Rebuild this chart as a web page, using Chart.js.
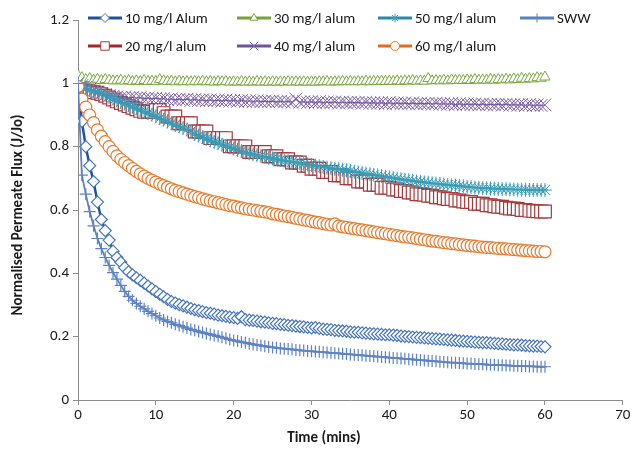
<!DOCTYPE html>
<html>
<head>
<meta charset="utf-8">
<script src="https://cdn.jsdelivr.net/npm/chart.js@4/dist/chart.umd.min.js"></script>
<style>
html,body{margin:0;padding:0;background:#fff;}
#wrap{width:633px;height:453px;position:relative;}
</style>
</head>
<body>
<div id="wrap"><canvas id="c" width="633" height="453"></canvas></div>
<script>
// ---- DATA ----
const times = [0,0.5,1,1.5,2,2.5,3,3.5,4,4.5,5,5.5,6,6.5,7,7.5,8,8.5,9,9.5,
10,10.5,11,11.5,12,12.5,13,13.5,14,14.5,15,15.5,16,16.5,17,17.5,18,18.5,19,19.5,
20,20.5,21,21.5,22,22.5,23,23.5,24,24.5,25,25.5,26,26.5,27,27.5,28,28.5,29,29.5,
30,30.5,31,31.5,32,32.5,33,33.5,34,34.5,35,35.5,36,36.5,37,37.5,38,38.5,39,39.5,
40,40.5,41,41.5,42,42.5,43,43.5,44,44.5,45,45.5,46,46.5,47,47.5,48,48.5,49,49.5,
50,50.5,51,51.5,52,52.5,53,53.5,54,54.5,55,55.5,56,56.5,57,57.5,58,58.5,59,59.5,60];

const seriesNames = ['10 mg/l Alum','20 mg/l alum','30 mg/l alum','40 mg/l alum','50 mg/l alum','60 mg/l alum','SWW'];

const alum10 = [1.000,0.880,0.800,0.740,0.690,0.625,0.570,0.535,0.505,0.470,
0.450,0.435,0.418,0.405,0.395,0.386,0.378,0.369,0.360,0.351,
0.342,0.334,0.326,0.318,0.311,0.306,0.301,0.297,0.293,0.289,
0.285,0.282,0.279,0.276,0.274,0.271,0.268,0.266,0.264,0.262,
0.260,0.258,0.263,0.254,0.252,0.251,0.249,0.247,0.246,0.244,
0.242,0.241,0.239,0.238,0.236,0.235,0.233,0.232,0.231,0.229,
0.228,0.229,0.226,0.224,0.223,0.222,0.220,0.219,0.218,0.217,
0.215,0.214,0.214,0.212,0.211,0.210,0.209,0.208,0.207,0.206,
0.206,0.205,0.204,0.202,0.201,0.200,0.199,0.198,0.197,0.196,
0.195,0.194,0.193,0.192,0.191,0.190,0.189,0.188,0.187,0.186,
0.185,0.184,0.183,0.182,0.181,0.181,0.180,0.179,0.178,0.177,
0.176,0.175,0.174,0.174,0.173,0.172,0.171,0.170,0.170,0.169,0.168];

const alum20 = [0.980,0.978,0.975,0.974,0.972,0.970,0.966,0.961,0.955,0.949,
0.943,0.938,0.933,0.928,0.923,0.918,0.913,0.910,0.910,0.910,
0.916,0.916,0.906,0.895,0.895,0.895,0.874,0.874,0.874,0.874,
0.848,0.848,0.848,0.848,0.827,0.827,0.827,0.827,0.827,0.801,
0.801,0.801,0.801,0.801,0.783,0.783,0.783,0.783,0.783,0.770,
0.770,0.770,0.760,0.760,0.760,0.750,0.750,0.750,0.740,0.740,
0.730,0.730,0.730,0.720,0.720,0.720,0.710,0.710,0.710,0.700,
0.700,0.700,0.690,0.690,0.690,0.680,0.680,0.680,0.670,0.670,
0.670,0.665,0.665,0.660,0.660,0.655,0.655,0.650,0.650,0.648,
0.645,0.645,0.640,0.640,0.637,0.635,0.635,0.630,0.630,0.627,
0.625,0.625,0.620,0.620,0.620,0.615,0.615,0.612,0.610,0.610,
0.607,0.605,0.605,0.603,0.600,0.600,0.598,0.597,0.596,0.595,0.595];

const alum30 = [1.025,1.018,1.012,1.015,1.010,1.013,1.009,1.012,1.010,1.008,
1.008,1.010,1.007,1.009,1.006,1.008,1.006,1.009,1.006,1.007,
1.006,1.012,1.008,1.006,1.007,1.005,1.007,1.005,1.006,1.005,
1.006,1.005,1.007,1.005,1.006,1.004,1.006,1.005,1.006,1.004,
1.005,1.004,1.006,1.004,1.005,1.004,1.006,1.004,1.005,1.004,
1.005,1.004,1.005,1.004,1.006,1.004,1.005,1.004,1.005,1.004,
1.005,1.004,1.005,1.005,1.006,1.004,1.005,1.005,1.006,1.005,
1.006,1.005,1.006,1.005,1.007,1.005,1.006,1.006,1.007,1.006,
1.007,1.006,1.008,1.006,1.008,1.007,1.009,1.007,1.008,1.007,
1.015,1.008,1.009,1.008,1.010,1.008,1.011,1.009,1.010,1.009,
1.011,1.009,1.012,1.010,1.011,1.010,1.013,1.010,1.012,1.011,
1.013,1.011,1.014,1.012,1.016,1.013,1.015,1.014,1.018,1.016,1.020];

const alum40 = [1.000,0.993,0.987,0.981,0.976,0.972,0.968,0.964,0.961,0.959,
0.957,0.955,0.957,0.954,0.956,0.953,0.955,0.952,0.954,0.951,
0.953,0.950,0.952,0.949,0.951,0.948,0.950,0.947,0.950,0.946,
0.949,0.946,0.948,0.945,0.948,0.945,0.947,0.944,0.947,0.944,
0.946,0.943,0.946,0.943,0.945,0.942,0.945,0.942,0.944,0.942,
0.944,0.941,0.943,0.941,0.943,0.940,0.950,0.940,0.942,0.940,
0.942,0.939,0.942,0.939,0.941,0.939,0.941,0.938,0.941,0.938,
0.940,0.938,0.940,0.937,0.940,0.937,0.939,0.937,0.939,0.936,
0.939,0.936,0.938,0.936,0.938,0.935,0.938,0.935,0.937,0.935,
0.937,0.934,0.937,0.934,0.936,0.934,0.936,0.933,0.936,0.933,
0.935,0.933,0.935,0.932,0.935,0.932,0.934,0.932,0.934,0.931,
0.934,0.931,0.933,0.931,0.933,0.930,0.933,0.930,0.932,0.930,0.932];

const alum50 = [1.000,0.988,0.982,0.979,0.976,0.973,0.969,0.964,0.958,0.952,
0.946,0.941,0.936,0.931,0.926,0.921,0.916,0.911,0.906,0.901,
0.896,0.890,0.885,0.880,0.874,0.869,0.864,0.859,0.854,0.849,
0.840,0.835,0.830,0.825,0.820,0.815,0.811,0.806,0.802,0.798,
0.794,0.790,0.786,0.782,0.779,0.776,0.773,0.770,0.768,0.765,
0.763,0.761,0.758,0.756,0.754,0.752,0.750,0.748,0.746,0.744,
0.742,0.740,0.738,0.736,0.734,0.732,0.730,0.729,0.727,0.725,
0.723,0.721,0.719,0.717,0.715,0.713,0.711,0.709,0.707,0.705,
0.703,0.701,0.699,0.697,0.695,0.694,0.692,0.690,0.689,0.687,
0.686,0.684,0.683,0.682,0.680,0.679,0.678,0.677,0.676,0.675,
0.673,0.672,0.671,0.670,0.669,0.669,0.668,0.667,0.667,0.666,
0.666,0.665,0.665,0.664,0.664,0.664,0.663,0.663,0.663,0.663,0.663];

const alum60 = [0.990,0.950,0.925,0.900,0.876,0.853,0.833,0.816,0.800,0.785,
0.771,0.760,0.750,0.740,0.731,0.722,0.714,0.707,0.700,0.694,
0.688,0.682,0.677,0.672,0.667,0.662,0.658,0.654,0.650,0.646,
0.642,0.639,0.635,0.632,0.629,0.626,0.623,0.620,0.617,0.614,
0.612,0.609,0.607,0.604,0.602,0.600,0.598,0.596,0.594,0.592,
0.588,0.586,0.584,0.581,0.579,0.577,0.574,0.572,0.569,0.567,
0.564,0.562,0.560,0.557,0.555,0.553,0.556,0.549,0.547,0.545,
0.543,0.541,0.539,0.537,0.535,0.533,0.531,0.529,0.527,0.525,
0.523,0.521,0.519,0.517,0.515,0.514,0.512,0.510,0.508,0.506,
0.504,0.502,0.501,0.499,0.497,0.496,0.494,0.493,0.491,0.490,
0.488,0.487,0.486,0.484,0.483,0.482,0.481,0.480,0.479,0.478,
0.477,0.476,0.475,0.474,0.473,0.472,0.471,0.470,0.469,0.469,0.468];

const sww = [1.000,0.710,0.650,0.595,0.550,0.510,0.478,0.450,0.425,0.402,
0.382,0.362,0.343,0.327,0.315,0.305,0.296,0.288,0.280,0.273,
0.266,0.259,0.253,0.248,0.244,0.239,0.235,0.231,0.227,0.223,
0.220,0.216,0.213,0.210,0.207,0.204,0.201,0.198,0.195,0.191,
0.188,0.186,0.183,0.181,0.178,0.176,0.174,0.172,0.170,0.168,
0.166,0.165,0.163,0.162,0.161,0.160,0.158,0.157,0.156,0.155,
0.154,0.153,0.152,0.151,0.150,0.149,0.148,0.147,0.146,0.145,
0.144,0.143,0.142,0.141,0.140,0.139,0.138,0.137,0.136,0.135,
0.134,0.133,0.132,0.131,0.130,0.129,0.128,0.127,0.126,0.125,
0.124,0.123,0.122,0.121,0.120,0.119,0.118,0.118,0.117,0.116,
0.115,0.115,0.114,0.113,0.113,0.112,0.111,0.111,0.110,0.110,
0.109,0.109,0.108,0.108,0.107,0.107,0.106,0.106,0.105,0.105,0.105];

const xTickValues = [0,10,20,30,40,50,60,70];
const yTickLabels = ['0','0.2','0.4','0.6','0.8','1','1.2'];
const xTitle = 'Time (mins)';
const yTitle = 'Normalised Permeate Flux (J/Jo)';

// ---- STYLES ----
const FONT = 'Carlito, Lato, "Liberation Sans", sans-serif';
const styles = [
  {line:'#23509E', mark:'#4675BD', pt:'rectRot', r:6, lw:2.5, pbw:1.2},
  {line:'#A8262A', mark:'#A8393B', pt:'rect', r:9, lw:1.5, pbw:1.2},
  {line:'#77A13B', mark:'#7AA83F', pt:'triangle', r:6, lw:1, pbw:1},
  {line:'#7152A2', mark:'#7C5FA9', pt:'crossRot', r:9, lw:1.2, pbw:1},
  {line:'#2A8AA5', mark:'#3A9CB6', pt:'star', r:7, lw:1.2, pbw:1},
  {line:'#E46C1E', mark:'#EA7A2C', pt:'circle', r:6, lw:1.5, pbw:1.2},
  {line:'#5A80C2', mark:'#5E83C4', pt:'cross', r:6, lw:1.8, pbw:1.2}
];
const legendLine = ['#23509E','#A8262A','#77A13B','#7152A2','#2A8AA5','#E46C1E','#5A80C2'];
const allSeries = [alum10, alum20, alum30, alum40, alum50, alum60, sww];

const datasets = allSeries.map((vals, i) => ({
  label: seriesNames[i],
  data: vals.map((v, k) => ({x: times[k], y: v})),
  borderColor: styles[i].line,
  borderWidth: styles[i].lw,
  pointStyle: styles[i].pt,
  pointRadius: styles[i].r,
  pointBorderColor: styles[i].mark,
  pointBackgroundColor: '#fff',
  pointBorderWidth: styles[i].pbw,
  tension: 0,
  fill: false,
  order: allSeries.length - 1 - i
}));

// custom legend + axis titles
const legendPos = [
  {i:0, x:88, y:18}, {i:2, x:237, y:18}, {i:4, x:378, y:18}, {i:6, x:520, y:18},
  {i:1, x:88, y:46}, {i:3, x:237, y:46}, {i:5, x:378, y:46}
];
const decorPlugin = {
  id: 'decor',
  afterDraw(chart) {
    const ctx = chart.ctx;
    ctx.save();
    legendPos.forEach(p => {
      const s = styles[p.i];
      ctx.strokeStyle = legendLine[p.i]; ctx.lineWidth = 3; ctx.lineCap = 'butt';
      ctx.beginPath(); ctx.moveTo(p.x, p.y); ctx.lineTo(p.x + 34, p.y); ctx.stroke();
      ctx.fillStyle = '#fff'; ctx.strokeStyle = s.mark; ctx.lineWidth = 1;
      const r = s.pt === 'rect' ? 6 : (s.pt === 'crossRot' ? 6 : 4.5);
      Chart.helpers.drawPoint(ctx, {pointStyle: s.pt, radius: r, rotation: 0, borderWidth: 1}, p.x + 17, p.y);
      ctx.fillStyle = '#1a1a1a';
      ctx.font = '15px ' + FONT;
      ctx.textAlign = 'left'; ctx.textBaseline = 'middle';
      ctx.fillText(seriesNames[p.i], p.x + 37, p.y + 1);
    });
    ctx.fillStyle = '#1a1a1a';
    ctx.font = 'bold 15px ' + FONT;
    ctx.textAlign = 'center'; ctx.textBaseline = 'middle';
    ctx.fillText(xTitle, 324, 438);
    ctx.translate(18, 215);
    ctx.rotate(-Math.PI / 2);
    ctx.fillText(yTitle, 0, 0);
    ctx.restore();
  }
};

new Chart(document.getElementById('c'), {
  type: 'line',
  data: { datasets },
  options: {
    responsive: false,
    animation: false,
    devicePixelRatio: 1,
    layout: { padding: { top: 20, right: 8, left: 0, bottom: 0 } },
    plugins: { legend: { display: false }, tooltip: { enabled: false } },
    scales: {
      x: {
        type: 'linear', min: 0, max: 70,
        afterBuildTicks: (s) => { s.ticks = xTickValues.map(v => ({value: v})); },
        afterFit: (s) => { s.height = 53; },
        ticks: { color: '#1a1a1a', font: { family: FONT, size: 15 }, padding: 1, maxRotation: 0 },
        grid: { drawOnChartArea: false, drawTicks: true, tickLength: 5, color: '#8c8c8c' },
        border: { color: '#8c8c8c', width: 1 }
      },
      y: {
        type: 'linear', min: 0, max: 1.2,
        ticks: {
          stepSize: 0.2, color: '#1a1a1a', font: { family: FONT, size: 15 }, padding: 4,
          callback: (v) => { const k = Math.round(v / 0.2); return yTickLabels[k]; }
        },
        afterFit: (s) => { s.width = 78; },
        grid: { drawOnChartArea: false, drawTicks: true, tickLength: 5, color: '#8c8c8c' },
        border: { color: '#8c8c8c', width: 1 }
      }
    }
  },
  plugins: [decorPlugin]
});
</script>
</body>
</html>
